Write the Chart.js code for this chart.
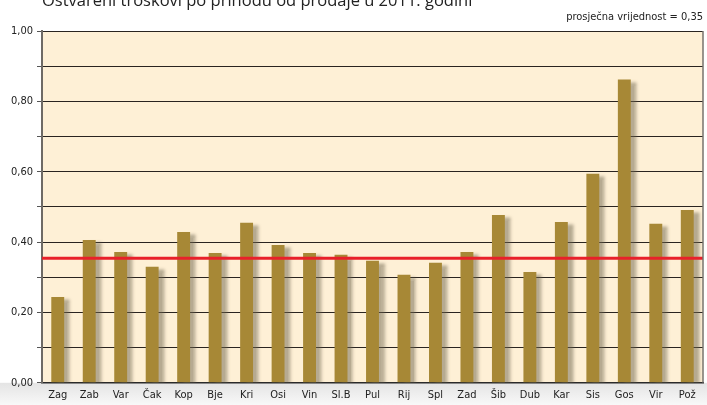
<!DOCTYPE html>
<html>
<head>
<meta charset="utf-8">
<script src="https://cdn.jsdelivr.net/npm/chart.js@4"></script>
<style>
    html, body { margin: 0; padding: 0; background: #fff; overflow: hidden; }
    #wrap { position: relative; width: 707px; height: 424px; margin-top: -12px; }
</style>
</head>
<body>
<div id="wrap"><canvas id="costChart"></canvas></div>
<script>
    const labels = ['Zag', 'Zab', 'Var', 'Čak', 'Kop', 'Bje', 'Kri', 'Osi', 'Vin', 'Sl.B', 'Pul',
        'Rij', 'Spl', 'Zad', 'Šib', 'Dub', 'Kar', 'Sis', 'Gos', 'Vir', 'Pož'];
    const values = [0.244, 0.406, 0.372, 0.330, 0.429, 0.369, 0.455, 0.392, 0.369, 0.364, 0.347,
        0.307, 0.341, 0.372, 0.477, 0.315, 0.457, 0.594, 0.862, 0.452, 0.491];
    const avgValue = 0.354;
    const yTicks = [0, 0.2, 0.4, 0.6, 0.8, 1.0];

    const fontFamily = '"Liberation Sans Narrow", "DejaVu Sans Condensed", "Liberation Sans", sans-serif';

    // cream plot background + grey band under the axis
    const backdrop = {
        id: 'backdrop',
        beforeDraw(chart) {
            const { ctx, chartArea: a } = chart;
            ctx.save();
            const g = ctx.createLinearGradient(0, a.bottom, 0, a.bottom + 24);
            g.addColorStop(0, '#e4e4e4');
            g.addColorStop(1, '#fafafa');
            ctx.fillStyle = g;
            ctx.fillRect(0, a.bottom, chart.width, chart.height - a.bottom);
            ctx.fillStyle = '#FEF0D6';
            ctx.fillRect(a.left, a.top, a.right - a.left, a.bottom - a.top);
            ctx.restore();
        },
        beforeDatasetDraw(chart, args) {
            if (args.index !== 0) return;
            const ctx = chart.ctx;
            ctx.save();
            ctx.shadowColor = 'rgba(110, 100, 75, 0.5)';
            ctx.shadowOffsetX = 6;
            ctx.shadowOffsetY = 2;
            ctx.shadowBlur = 3;
        },
        afterDatasetDraw(chart, args) {
            if (args.index !== 0) return;
            chart.ctx.restore();
        },
        afterDatasetsDraw(chart) {
            const { ctx, chartArea: a, scales } = chart;
            const y = scales.y.getPixelForValue(avgValue);
            ctx.save();
            ctx.strokeStyle = '#E8202A';
            ctx.lineWidth = 3;
            ctx.beginPath();
            ctx.moveTo(a.left, y);
            ctx.lineTo(a.right, y);
            ctx.stroke();
            // right frame
            ctx.strokeStyle = '#77736d';
            ctx.lineWidth = 1.5;
            ctx.beginPath();
            ctx.moveTo(a.right, a.top);
            ctx.lineTo(a.right, a.bottom);
            ctx.stroke();
            ctx.restore();
        }
    };

    const ctx = document.getElementById('costChart').getContext('2d');
    new Chart(ctx, {
        type: 'bar',
        data: {
            labels: labels,
            datasets: [{
                data: values,
                backgroundColor: '#A78836',
                borderWidth: 0,
                barPercentage: 0.41,
                categoryPercentage: 1
            }]
        },
        options: {
            responsive: true,
            maintainAspectRatio: false,
            animation: false,
            layout: {
                padding: { left: 0, right: 4, top: 0, bottom: 4 }
            },
            plugins: {
                legend: { display: false },
                tooltip: { enabled: false },
                title: {
                    display: true,
                    text: 'Ostvareni troškovi po prihodu od prodaje u 2011. godini',
                    align: 'start',
                    fullSize: false,
                    color: '#222',
                    font: { family: '"Open Sans", "Liberation Sans", sans-serif', size: 16.5, weight: 'normal' },
                    padding: { top: 3, bottom: 0 }
                },
                subtitle: {
                    display: true,
                    text: 'prosječna vrijednost = 0,35',
                    align: 'end',
                    color: '#222',
                    font: { family: fontFamily, size: 11 },
                    padding: { top: 0, bottom: 7 }
                }
            },
            scales: {
                x: {
                    grid: { display: false, drawTicks: false },
                    border: { color: '#2a2a2a', width: 1.5 },
                    ticks: {
                        color: '#222',
                        padding: 6,
                        autoSkip: false,
                        maxRotation: 0,
                        font: { family: fontFamily, size: 11 }
                    }
                },
                y: {
                    min: 0,
                    max: 1,
                    afterFit: function(scale) { scale.width = 42; },
                    afterBuildTicks: function(scale) {
                        const t = [];
                        for (let i = 0; i <= 10; i++) t.push({ value: i / 10 });
                        scale.ticks = t;
                    },
                    grid: {
                        color: '#2a2420',
                        lineWidth: 1,
                        tickLength: 5,
                        tickColor: '#555'
                    },
                    border: { color: '#6e6a65', width: 2 },
                    ticks: {
                        color: '#222',
                        padding: 4,
                        font: { family: fontFamily, size: 11 },
                        callback: function(value) {
                            const v = Math.round(value * 100) / 100;
                            return yTicks.some(t => Math.abs(t - v) < 1e-6) ? v.toFixed(2).replace('.', ',') : '';
                        }
                    }
                }
            }
        },
        plugins: [backdrop]
    });
</script>
</body>
</html>
